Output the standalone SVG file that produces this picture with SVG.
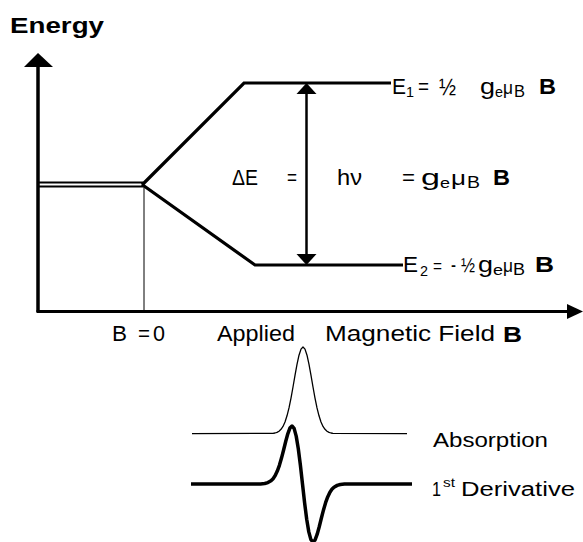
<svg xmlns="http://www.w3.org/2000/svg" width="583" height="542" viewBox="0 0 583 542">
<style>
.t{font-family:"Liberation Sans",Arial,sans-serif;fill:#000}
.b{font-weight:bold}
.ln{stroke:#000;fill:none;stroke-linecap:butt}
</style>
<rect width="583" height="542" fill="#fff"/>
<g id="axes">
  <line class="ln" x1="38" y1="312" x2="38" y2="64" stroke-width="3.5"/>
  <polygon points="38,53 24,67 53,67" fill="#000"/>
  <line class="ln" x1="36.5" y1="311.5" x2="570" y2="311.5" stroke-width="3"/>
  <polygon points="583,311.5 567,304 567,319" fill="#000"/>
  <line class="ln" x1="144" y1="187" x2="144" y2="311" stroke-width="1"/>
</g>
<g id="levels">
  <line class="ln" x1="38" y1="182.5" x2="143" y2="182.5" stroke-width="2"/>
  <line class="ln" x1="38" y1="186.5" x2="143" y2="186.5" stroke-width="2"/>
  <polyline class="ln" points="142,185 244,83 391,83" stroke-width="3.2" stroke-linejoin="miter"/>
  <polyline class="ln" points="142,184.5 255,265 403,265" stroke-width="3.2" stroke-linejoin="miter"/>
</g>
<g id="connectors">
  <line class="ln" x1="306.5" y1="90" x2="306.5" y2="258" stroke-width="2.5"/>
  <polygon points="306.5,83 296.5,94 316.5,94" fill="#000"/>
  <polygon points="306.5,265 296.5,254 316.5,254" fill="#000"/>
</g>
<g id="energy-label">
  <text class="t b" x="10" y="33" font-size="22" textLength="94" lengthAdjust="spacingAndGlyphs">Energy</text>
</g>
<g id="E1">
  <text class="t" font-size="22" y="94"><tspan x="392" textLength="14" lengthAdjust="spacingAndGlyphs">E</tspan><tspan x="406" y="97" font-size="15" textLength="8" lengthAdjust="spacingAndGlyphs">1</tspan><tspan x="418" y="94" textLength="11" lengthAdjust="spacingAndGlyphs">=</tspan><tspan x="439" y="95" font-size="24" textLength="17" lengthAdjust="spacingAndGlyphs">½</tspan><tspan x="480" y="94" textLength="15" lengthAdjust="spacingAndGlyphs">g</tspan><tspan x="495" y="97" font-size="15" textLength="8" lengthAdjust="spacingAndGlyphs">e</tspan><tspan x="503" y="94" font-size="19" textLength="10" lengthAdjust="spacingAndGlyphs">μ</tspan><tspan x="514" y="97" font-size="16" textLength="11" lengthAdjust="spacingAndGlyphs">B</tspan><tspan x="539" y="94" font-weight="bold" textLength="17" lengthAdjust="spacingAndGlyphs">B</tspan></text>
</g>
<g id="deltaE">
  <text class="t" font-size="22" y="185"><tspan x="232" textLength="26" lengthAdjust="spacingAndGlyphs">ΔE</tspan><tspan x="287" textLength="10" lengthAdjust="spacingAndGlyphs">=</tspan><tspan x="337" textLength="25" lengthAdjust="spacingAndGlyphs">hν</tspan><tspan x="402" textLength="13" lengthAdjust="spacingAndGlyphs">=</tspan><tspan x="421" textLength="19" lengthAdjust="spacingAndGlyphs">g</tspan><tspan x="440" y="188" font-size="15" textLength="10" lengthAdjust="spacingAndGlyphs">e</tspan><tspan x="451" y="185" font-size="20" textLength="15" lengthAdjust="spacingAndGlyphs">μ</tspan><tspan x="467" y="188" font-size="16" textLength="13" lengthAdjust="spacingAndGlyphs">B</tspan><tspan x="493" y="185" font-weight="bold" textLength="17" lengthAdjust="spacingAndGlyphs">B</tspan></text>
</g>
<g id="E2">
  <text class="t" font-size="22" y="272"><tspan x="403" textLength="15" lengthAdjust="spacingAndGlyphs">E</tspan><tspan x="420" y="276" font-size="15" textLength="8" lengthAdjust="spacingAndGlyphs">2</tspan><tspan x="433" y="272" font-size="19" textLength="9" lengthAdjust="spacingAndGlyphs">=</tspan><tspan x="451" textLength="5" lengthAdjust="spacingAndGlyphs">-</tspan><tspan x="461" y="272" font-size="21" textLength="14" lengthAdjust="spacingAndGlyphs">½</tspan><tspan x="478" y="272" textLength="15" lengthAdjust="spacingAndGlyphs">g</tspan><tspan x="493" y="275" font-size="15" textLength="10" lengthAdjust="spacingAndGlyphs">e</tspan><tspan x="503" y="272" font-size="19" textLength="10" lengthAdjust="spacingAndGlyphs">μ</tspan><tspan x="513" y="275" font-size="16" textLength="12" lengthAdjust="spacingAndGlyphs">B</tspan><tspan x="535" y="272" font-weight="bold" textLength="19" lengthAdjust="spacingAndGlyphs">B</tspan></text>
</g>
<g id="x-labels">
  <text class="t" font-size="22" y="341"><tspan x="112" textLength="15" lengthAdjust="spacingAndGlyphs">B</tspan> <tspan x="138" textLength="12" lengthAdjust="spacingAndGlyphs">=</tspan> <tspan x="153" textLength="12" lengthAdjust="spacingAndGlyphs">0</tspan></text>
  <text class="t" font-size="22" x="217" y="341" textLength="78" lengthAdjust="spacingAndGlyphs">Applied</text>
  <text class="t" font-size="22" x="325" y="341" textLength="170" lengthAdjust="spacingAndGlyphs">Magnetic Field</text>
  <text class="t b" font-size="22" x="503" y="342" textLength="19" lengthAdjust="spacingAndGlyphs">B</text>
</g>
<g id="absorption">
  <polyline class="ln" stroke-width="1.3" stroke-linejoin="round" points="192,433.7 273,433.4 275,433.0 277,432.4 279,431.2 281,429.3 283,426.4 285,422.0 287,415.8 289,407.9 291,398.1 293,387.0 295,375.3 297,364.3 299,355.2 301,349.1 303,347.0 305,349.1 307,355.2 309,364.3 311,375.3 313,387.0 315,398.1 317,407.9 319,415.8 321,422.0 323,426.4 325,429.3 327,431.2 329,432.4 331,433.0 333,433.4 407,433.7"/>
  <text class="t" font-size="19.5" x="433" y="447" textLength="115" lengthAdjust="spacingAndGlyphs">Absorption</text>
</g>
<g id="derivative">
  <polyline class="ln" stroke-width="3.5" stroke-linejoin="round" points="191,484 260.5,483.9 264.7,483.5 267.9,482.6 271,480.8 273.1,478.7 275.2,475.6 277.3,471.1 279.4,465.3 281.5,458.1 283.6,450 285.7,441.5 287.8,433.8 289.9,428.1 292,426 294.1,428.4 296.2,436.1 298.3,448.7 300.4,465.3 302.5,484 304.6,502.7 306.7,519.3 308.8,531.9 310.9,539.6 313,542 315.1,539.9 317.2,534.2 319.3,526.5 321.4,518 323.5,509.9 325.6,502.7 327.7,496.9 329.8,492.4 331.9,489.3 334,487.2 337.2,485.4 340.3,484.5 344.5,484.1 412,484"/>
  <text class="t" font-size="19.5" y="496"><tspan x="432" textLength="9" lengthAdjust="spacingAndGlyphs">1</tspan><tspan x="443" y="487" font-size="12" textLength="12" lengthAdjust="spacingAndGlyphs">st</tspan><tspan x="461" y="496" textLength="114" lengthAdjust="spacingAndGlyphs">Derivative</tspan></text>
</g>
</svg>
